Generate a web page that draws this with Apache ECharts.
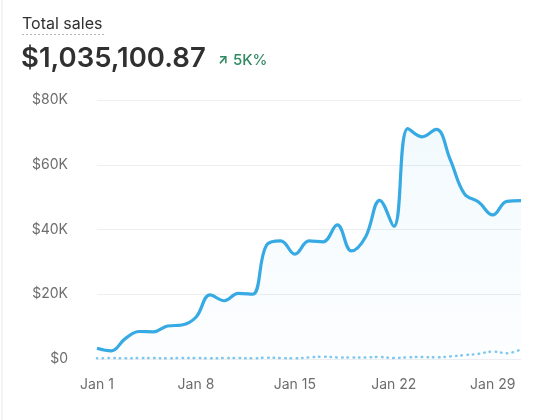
<!DOCTYPE html>
<html>
<head>
<meta charset="utf-8">
<script src="https://cdn.jsdelivr.net/npm/echarts@6/dist/echarts.min.js"></script>
<style>
  html, body { margin: 0; padding: 0; background: #ffffff; }
  #chart { width: 540px; height: 420px; }
</style>
</head>
<body>
<div id="chart"></div>
<script>
// Categories: Jan 1 .. Jan 31
const days = [
  'Jan 1','Jan 2','Jan 3','Jan 4','Jan 5','Jan 6','Jan 7','Jan 8','Jan 9','Jan 10',
  'Jan 11','Jan 12','Jan 13','Jan 14','Jan 15','Jan 16','Jan 17','Jan 18','Jan 19','Jan 20',
  'Jan 21','Jan 22','Jan 23','Jan 24','Jan 25','Jan 26','Jan 27','Jan 28','Jan 29','Jan 30','Jan 31'
];
// Current period sales (USD)
const currentSales = [
  3300, 2500, 6300, 8500, 8400, 10200, 10500, 12900, 19800, 18000,
  20300, 20000, 35200, 36500, 32400, 36500, 36200, 41400, 33400, 37700,
  49000, 41000, 71200, 68600, 70900, 61500, 51000, 48500, 44500, 48700, 48900
];
// Comparison period sales (USD)
const previousSales = [
  200, 300, 200, 300, 300, 200, 300, 300, 200, 300,
  300, 200, 400, 300, 200, 500, 700, 500, 500, 500,
  600, 300, 500, 600, 500, 800, 1200, 1600, 2300, 1800, 3000
];
const yTicks = [0, 20000, 40000, 60000, 80000];
const titleText = 'Total sales';
const totalText = '$1,035,100.87';
const changeText = '5K%';

const chart = echarts.init(document.getElementById('chart'), null, { renderer: 'canvas' });
const font = 'Inter, "Noto Sans", sans-serif';

chart.setOption({
  animation: false,
  backgroundColor: '#ffffff',
  grid: { left: 97, right: 19, top: 100, bottom: 61 },
  graphic: [
    { type: 'line', shape: { x1: 2, y1: 0, x2: 2, y2: 420 }, style: { stroke: '#e6e8eb', lineWidth: 1 } },
    { type: 'text', left: 22, top: 16, style: { text: titleText, font: '16px ' + font, fill: '#303030' } },
    { type: 'line', shape: { x1: 22, y1: 34.5, x2: 105, y2: 34.5 }, style: { stroke: '#b5b5b5', lineWidth: 1, lineDash: [2, 2] } },
    { type: 'text', left: 21, top: 45, style: { text: totalText, font: '600 27.5px ' + font, fill: '#303030' } },
    { type: 'text', left: 218, top: 54, style: { text: '\u2197', font: '700 13px ' + font, fill: '#2f8a62' } },
    { type: 'text', left: 233, top: 53, style: { text: changeText, font: '500 15px ' + font, fill: '#2f8a62' } }
  ],
  xAxis: {
    type: 'category',
    data: days,
    boundaryGap: false,
    axisLine: { show: false },
    axisTick: { show: false },
    axisLabel: { interval: 6, color: '#6d6d6d', fontSize: 14, fontFamily: font, margin: 19 },
    splitLine: { show: false }
  },
  yAxis: {
    type: 'value',
    min: yTicks[0],
    max: yTicks[yTicks.length - 1],
    interval: 20000,
    axisLine: { show: false },
    axisTick: { show: false },
    axisLabel: {
      color: '#6d6d6d', fontSize: 14, fontFamily: font, margin: 29,
      formatter: v => v === 0 ? '$0' : '$' + (v / 1000) + 'K'
    },
    splitLine: { lineStyle: { color: '#eceef1', width: 1 } }
  },
  series: [
    {
      name: 'Previous',
      type: 'line',
      data: previousSales,
      smooth: 0.4,
      symbol: 'none',
      z: 2,
      lineStyle: { color: '#7fc7ee', width: 2.5, type: [0.5, 5.2], cap: 'round' }
    },
    {
      name: 'Current',
      type: 'line',
      data: currentSales,
      smooth: 0.4,
      symbol: 'none',
      z: 3,
      lineStyle: { color: '#37aae4', width: 3.2 },
      areaStyle: {
        color: new echarts.graphic.LinearGradient(0, 0, 0, 1, [
          { offset: 0, color: 'rgba(55,170,228,0.09)' },
          { offset: 1, color: 'rgba(55,170,228,0.02)' }
        ])
      }
    }
  ]
});
</script>
</body>
</html>
